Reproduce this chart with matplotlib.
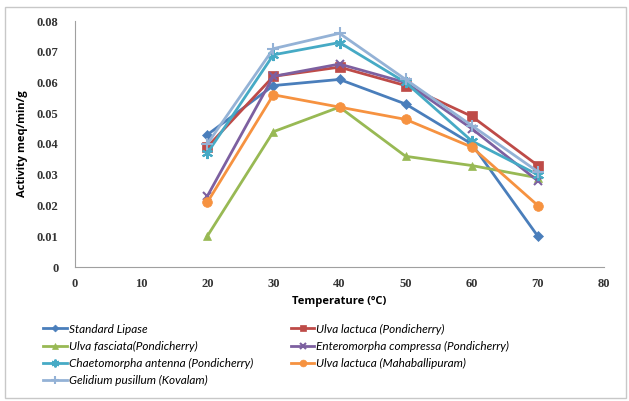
import numpy as np
import matplotlib
matplotlib.use("Agg")
import matplotlib.pyplot as plt
from matplotlib.patches import Rectangle

## Data

temps = [20, 30, 40, 50, 60, 70]
standard_lipase = [0.043, 0.059, 0.061, 0.053, 0.040, 0.010]
ulva_lactuca_pond = [0.039, 0.062, 0.065, 0.059, 0.049, 0.033]
ulva_fasciata = [0.010, 0.044, 0.052, 0.036, 0.033, 0.029]
enteromorpha = [0.023, 0.062, 0.066, 0.060, 0.045, 0.028]
chaetomorpha = [0.037, 0.069, 0.073, 0.060, 0.041, 0.030]
ulva_lactuca_maha = [0.021, 0.056, 0.052, 0.048, 0.039, 0.020]
gelidium = [0.040, 0.071, 0.076, 0.061, 0.046, 0.031]

labels = ['Standard Lipase', 'Ulva lactuca (Pondicherry)',
          'Ulva fasciata(Pondicherry)', 'Enteromorpha compressa (Pondicherry)',
          'Chaetomorpha antenna (Pondicherry)', 'Ulva lactuca (Mahaballipuram)',
          'Gelidium pusillum (Kovalam)']

series = [standard_lipase, ulva_lactuca_pond, ulva_fasciata, enteromorpha,
          chaetomorpha, ulva_lactuca_maha, gelidium]
colors = ['#4A7EBB', '#BE4B48', '#98B954', '#7D60A0', '#46AAC5', '#F69240', '#94B2D6']
markers = ['D', 's', '^', 'x', (6, 2, 0), 'o', '+']
msizes = [5, 7, 6, 6, 8, 7, 9]

fig = plt.figure(figsize=(6.29, 4.01), dpi=100)
ax = fig.add_axes([75/629, 1-267/401, 529/629, 246/401])

for vals, lab, c, m, ms in zip(series, labels, colors, markers, msizes):
    ax.plot(temps, vals, color=c, marker=m, markersize=ms, linewidth=2,
            markeredgewidth=1.5 if m in ('x', '+', (6, 2, 0)) else 0.5,
            markeredgecolor=c, label=lab)

ax.set_xlim(0, 80)
ax.set_ylim(0, 0.08)
ax.set_xticks(np.arange(0, 81, 10))
ax.set_yticks(np.arange(0, 0.081, 0.01))
ax.set_yticklabels(['0'] + ['%.2f' % v for v in np.arange(0.01, 0.081, 0.01)])
for t in ax.get_xticklabels() + ax.get_yticklabels():
    t.set_fontfamily('Liberation Serif')
    t.set_fontweight('bold')
    t.set_fontsize(9)
    t.set_color('#333333')
ax.tick_params(length=0, pad=8)
ax.tick_params(axis='y', pad=12)

for s in ['top', 'right']:
    ax.spines[s].set_visible(False)
for s in ['left', 'bottom']:
    ax.spines[s].set_color('#A0A0A0')

ax.set_xlabel('Temperature (ºC)', fontsize=8, fontweight='bold', fontfamily='Open Sans', labelpad=4)
ax.set_ylabel('Activity meq/min/g', fontsize=8, fontweight='bold', fontfamily='Open Sans', labelpad=6)

# legend, filled row by row like the original
h, l = ax.get_legend_handles_labels()
order = [0, 2, 4, 6, 1, 3, 5]
fig.legend([h[i] for i in order], [l[i] for i in order], ncol=2,
           loc='upper left', bbox_to_anchor=(34/629, 1-314/401), frameon=False,
           prop={'family': 'Lato', 'style': 'italic', 'size': 8.5},
           handlelength=2.0, handletextpad=0.15, labelspacing=0.53,
           columnspacing=3.2, markerscale=0.7, borderpad=0.3)

# outer chart border
fig.patches.append(Rectangle((5/629, 3/401), 621/629, 391/401, transform=fig.transFigure,
                             fill=False, edgecolor='#C8C8C8', linewidth=1))

fig.savefig('out.png', dpi=100)
